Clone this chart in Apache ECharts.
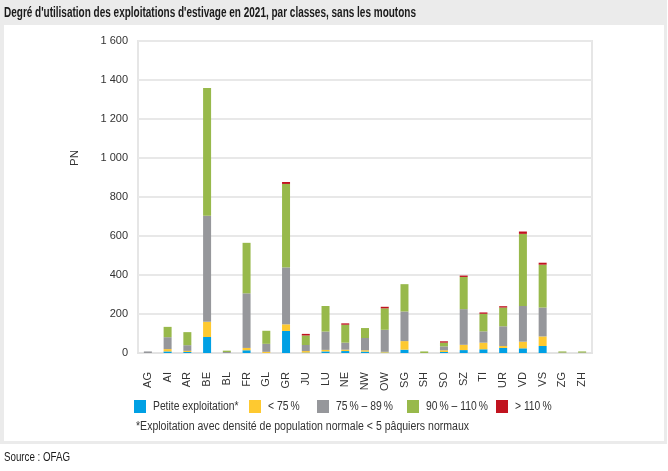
<!DOCTYPE html>
<html>
<head>
<meta charset="utf-8">
<script src="https://cdn.jsdelivr.net/npm/echarts@6/dist/echarts.min.js"></script>
<style>
html,body{margin:0;padding:0;background:#fff;}
#chart{width:668px;height:471px;}
</style>
</head>
<body>
<div id="chart"></div>
<script>
var categories = ['AG','AI','AR','BE','BL','FR','GL','GR','JU','LU','NE','NW','OW','SG','SH','SO','SZ','TI','UR','VD','VS','ZG','ZH'];
var seriesNames = ['Petite exploitation*', '< 75\u2009%', '75\u2009% – 89\u2009%', '90\u2009% – 110\u2009%', '> 110\u2009%'];
var petite  = [0, 8, 5, 82, 0, 14, 0, 113, 2, 8, 10, 7, 2, 17, 0, 5, 15, 19, 26, 24, 36, 0, 0];
var lt75    = [0, 12, 6, 78, 0, 12, 6, 34, 8, 8, 7, 7, 4, 44, 0, 9, 27, 34, 10, 34, 49, 0, 0];
var p75_89  = [8, 61, 29, 544, 5, 280, 41, 292, 31, 94, 36, 63, 113, 152, 0, 20, 183, 58, 101, 183, 148, 2, 2];
var p90_110 = [0, 53, 67, 655, 7, 259, 67, 428, 49, 131, 92, 51, 110, 140, 8, 19, 165, 90, 96, 370, 220, 6, 6];
var gt110   = [0, 0, 0, 0, 0, 0, 0, 10, 8, 0, 7, 0, 8, 0, 0, 7, 7, 7, 7, 12, 10, 0, 0];
var yTicks = [0, 200, 400, 600, 800, 1000, 1200, 1400, 1600];

var colors = ['#00a0e4', '#fec930', '#96979b', '#98b94b', '#c1131f'];
var seriesData = [petite, lt75, p75_89, p90_110, gt110];
var FONT = '"Liberation Sans", Arial, sans-serif';

var series = seriesNames.map(function (n, i) {
  return {
    name: n, type: 'bar', stack: 'total', barWidth: 8,
    itemStyle: { color: colors[i] },
    data: seriesData[i]
  };
});

// legend drawn as graphic (rect + condensed text) to match the condensed reference font
var legendX = [134, 249, 317, 407, 496];
var legendGraphics = [];
seriesNames.forEach(function (n, i) {
  legendGraphics.push({ type: 'rect', shape: { x: legendX[i], y: 400, width: 12, height: 13 }, style: { fill: colors[i] } });
  legendGraphics.push({ type: 'text', x: legendX[i] + 19, y: 407, scaleX: 0.86,
    style: { text: n, font: '12px ' + FONT, fill: '#333', verticalAlign: 'middle' } });
});

var chart = echarts.init(document.getElementById('chart'), null, { renderer: 'canvas' });
chart.setOption({
  backgroundColor: '#ffffff',
  animation: false,
  color: colors,
  graphic: [
    { type: 'rect', z: -100, shape: { x: 0, y: 0, width: 667, height: 444 }, style: { fill: '#ebebeb' } },
    { type: 'rect', z: -99, shape: { x: 4, y: 25, width: 660, height: 416 }, style: { fill: '#ffffff' } },
    { type: 'text', x: 4, y: 13, scaleX: 0.714, style: { text: "Degré d'utilisation des exploitations d'estivage en 2021, par classes, sans les moutons", font: 'bold 14px ' + FONT, fill: '#1a1a1a', verticalAlign: 'middle' } },
    { type: 'text', x: 75, y: 158, rotation: Math.PI / 2, style: { text: 'PN', font: '11.5px ' + FONT, fill: '#333', align: 'center', verticalAlign: 'middle' } },
    { type: 'text', x: 136, y: 427, scaleX: 0.843, style: { text: '*Exploitation avec densité de population normale < 5 pâquiers normaux', font: '12.5px ' + FONT, fill: '#333', verticalAlign: 'middle' } },
    { type: 'text', x: 4, y: 457, scaleX: 0.75, style: { text: 'Source : OFAG', font: '13px ' + FONT, fill: '#1a1a1a', verticalAlign: 'middle' } }
  ].concat(legendGraphics),
  grid: {
    left: 138, right: 76, top: 41, bottom: 118,
    outerBoundsMode: 'none',
    show: true, borderColor: '#e6e6e6', borderWidth: 2
  },
  xAxis: {
    type: 'category', data: categories,
    axisTick: { show: false },
    axisLine: { lineStyle: { color: '#e3e3e3', width: 2 } },
    axisLabel: { rotate: 90, margin: 19, interval: 0, fontFamily: FONT, fontSize: 11, color: '#333' }
  },
  yAxis: {
    type: 'value', min: yTicks[0], max: yTicks[yTicks.length - 1], interval: 200,
    axisLine: { show: false }, axisTick: { show: false },
    splitLine: { lineStyle: { color: '#e8e8e8', width: 2 } },
    axisLabel: {
      margin: 10, fontFamily: FONT, fontSize: 11, color: '#333',
      formatter: function (v) { return String(v).replace(/\B(?=(\d{3})+(?!\d))/g, ' '); }
    }
  },
  series: series
});
</script>
</body>
</html>
